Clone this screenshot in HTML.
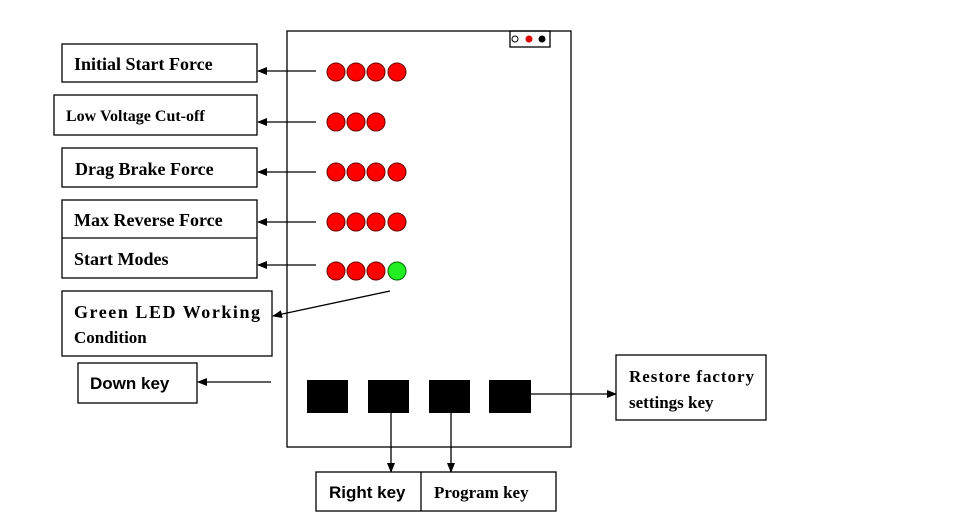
<!DOCTYPE html>
<html><head><meta charset="utf-8"><style>
html,body{margin:0;padding:0;background:#fff;}
svg{display:block;}
text{font-family:"Liberation Serif",serif;font-weight:bold;fill:#000;}
.s{font-family:"Liberation Sans",sans-serif;}
</style></head><body>
<svg width="962" height="521" viewBox="0 0 962 521" xmlns="http://www.w3.org/2000/svg">
<defs><marker id="a" markerWidth="10" markerHeight="8" refX="9" refY="4" orient="auto" markerUnits="userSpaceOnUse"><path d="M0,0 L10,4 L0,8 Z" fill="#000"/></marker></defs>
<g fill="none" stroke="#000" stroke-width="1.3">
<rect x="287" y="31" width="284" height="416"/>
<rect x="510" y="31" width="40" height="16"/>
<rect x="62" y="44" width="195" height="38"/>
<rect x="54" y="95" width="203" height="40"/>
<rect x="62" y="148" width="195" height="39"/>
<rect x="62" y="200" width="195" height="78"/>
<line x1="62" y1="238" x2="257" y2="238"/>
<rect x="62" y="291" width="210" height="65"/>
<rect x="78" y="363" width="119" height="40"/>
<rect x="616" y="355" width="150" height="65"/>
<rect x="316" y="472" width="240" height="39"/>
<line x1="421" y1="472" x2="421" y2="511"/>
<g marker-end="url(#a)">
<line x1="316" y1="71" x2="258" y2="71"/>
<line x1="316" y1="122" x2="258" y2="122"/>
<line x1="316" y1="172" x2="258" y2="172"/>
<line x1="316" y1="222" x2="258" y2="222"/>
<line x1="316" y1="265" x2="258" y2="265"/>
<line x1="390" y1="291" x2="273" y2="316"/>
<line x1="271" y1="382" x2="198" y2="382"/>
<line x1="531" y1="394" x2="616" y2="394"/>
<line x1="391" y1="413" x2="391" y2="472"/>
<line x1="451" y1="413" x2="451" y2="472"/>
</g>
</g>
<circle cx="515" cy="39" r="3" fill="#fff" stroke="#000"/>
<circle cx="529" cy="39" r="3.5" fill="#d00"/>
<circle cx="542" cy="39" r="3.5" fill="#000"/>
<g fill="#f00" stroke="#600" stroke-width="1">
<circle cx="336" cy="72" r="9"/><circle cx="356" cy="72" r="9"/><circle cx="376" cy="72" r="9"/><circle cx="397" cy="72" r="9"/>
<circle cx="336" cy="122" r="9"/><circle cx="356" cy="122" r="9"/><circle cx="376" cy="122" r="9"/>
<circle cx="336" cy="172" r="9"/><circle cx="356" cy="172" r="9"/><circle cx="376" cy="172" r="9"/><circle cx="397" cy="172" r="9"/>
<circle cx="336" cy="222" r="9"/><circle cx="356" cy="222" r="9"/><circle cx="376" cy="222" r="9"/><circle cx="397" cy="222" r="9"/>
<circle cx="336" cy="271" r="9"/><circle cx="356" cy="271" r="9"/><circle cx="376" cy="271" r="9"/>
<circle cx="397" cy="271" r="9" fill="#2e2" stroke="#060"/>
</g>
<g fill="#000">
<rect x="307" y="380" width="41" height="33"/>
<rect x="368" y="380" width="41" height="33"/>
<rect x="429" y="380" width="41" height="33"/>
<rect x="489" y="380" width="42" height="33"/>
</g>
<text x="74" y="70" font-size="18">Initial Start Force</text>
<text x="66" y="121" font-size="16">Low Voltage Cut-off</text>
<text x="75" y="175" font-size="18">Drag Brake Force</text>
<text x="74" y="226" font-size="18">Max Reverse Force</text>
<text x="74" y="265" font-size="18">Start Modes</text>
<text x="74" y="318" font-size="18" textLength="186" lengthAdjust="spacing">Green LED Working</text>
<text x="74" y="343" font-size="17">Condition</text>
<text class="s" x="90" y="389" font-size="17">Down key</text>
<text x="629" y="382" font-size="17" textLength="125" lengthAdjust="spacing">Restore factory</text>
<text x="629" y="408" font-size="17">settings key</text>
<text class="s" x="329" y="498" font-size="17">Right key</text>
<text x="434" y="498" font-size="17">Program key</text>
</svg>
</body></html>
